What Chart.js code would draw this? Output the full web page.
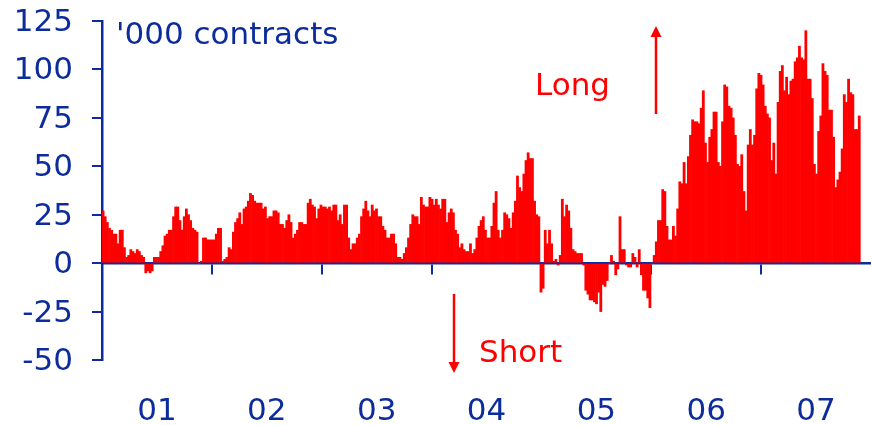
<!DOCTYPE html>
<html>
<head>
<meta charset="utf-8">
<script src="https://cdn.jsdelivr.net/npm/chart.js@4.4.0/dist/chart.umd.min.js"></script>
<style>
  html, body { margin: 0; padding: 0; background: #fff; }
</style>
</head>
<body>
<canvas id="c" width="871" height="425"></canvas>
<script>
const BLUE = '#0D2C9C';
const RED = '#FF0000';
const FONT = '"DejaVu Sans", Verdana, sans-serif';

// weekly net position, '000 contracts
const janToNov01 = [27, 24, 21, 18, 17, 15, 15, 10, 17, 17, 8, 3, 4, 7, 6, 5, 7, 6, 4, 3, -5, -4, -5, -4, 3, 3, 3, 6, 9, 14, 15, 17, 17, 24, 29, 29, 22, 17, 24, 28, 25, 22, 18, 17];
const nov01ToSep02 = [16, 0, 1, 13, 13, 12, 12, 12, 12, 15, 18, 18, 1, 2, 3, 8, 7, 16, 21, 23, 26, 20, 28, 29, 32, 36, 35, 32, 31, 31, 31, 28, 29, 23, 24, 24, 27, 27, 26, 20, 20, 18, 22, 25, 21];
const sep02ToAug03 = [13, 15, 17, 21, 21, 20, 20, 31, 33, 30, 29, 23, 28, 30, 29, 29, 28, 29, 27, 30, 30, 22, 25, 20, 30, 30, 13, 7, 10, 10, 13, 15, 24, 28, 32, 27, 24, 30, 27, 28, 24, 24, 19, 17, 13];
const aug03ToJun04 = [13, 15, 15, 10, 3, 3, 2, 5, 8, 13, 20, 25, 24, 24, 20, 34, 30, 29, 29, 34, 33, 30, 33, 30, 28, 33, 33, 21, 26, 28, 26, 17, 15, 8, 10, 7, 6, 6, 10, 5, 7, 13, 19, 22, 24];
const jun04ToMay05 = [17, 13, 13, 19, 31, 37, 17, 13, 17, 26, 25, 23, 18, 26, 32, 45, 39, 37, 46, 53, 57, 54, 54, 32, 25, 24, -15, -13, 17, 10, 17, 10, 1, 2, -1, 4, 33, 24, 30, 27, 18, 7, 6, 5, 5];
const may05ToJan06 = [5, -1, -14, -16, -19, -19, -20, -21, -15, -25, -11, -12, -9, 0, 4, 1, -6, -3, 24, 7, 7, -1, -2, -2, 5, 3, -2, 7, -6, -14, -14, -18, -23, 0, 4, 11, 22, 22];
const jan06ToDec06 = [38, 37, 19, 12, 12, 19, 14, 28, 42, 41, 52, 41, 55, 66, 74, 73, 73, 72, 80, 89, 62, 52, 65, 69, 78, 78, 52, 50, 73, 92, 91, 81, 80, 75, 66, 51, 50, 56, 37, 27, 61, 69, 61, 66, 90, 98, 97];
const dec06ToNov07 = [92, 81, 77, 75, 53, 62, 46, 83, 99, 102, 89, 96, 87, 94, 95, 104, 106, 112, 106, 105, 120, 95, 95, 85, 51, 46, 68, 76, 103, 99, 97, 79, 79, 65, 39, 43, 47, 59, 87, 83, 95, 88, 87, 69, 69, 76];

const yearLabels = ['01', '02', '03', '04', '05', '06', '07'];
const Y_MIN = -50, Y_MAX = 125, Y_STEP = 25;
const EMPTY_WEEKS = 5; // blank slots after the last week, to the end of 07

const weekly = [].concat(janToNov01, nov01ToSep02, sep02ToAug03, aug03ToJun04,
    jun04ToMay05, may05ToJan06, jan06ToDec06, dec06ToNov07);
const weekSlots = Array.from({ length: weekly.length + EMPTY_WEEKS }, (_, i) => String(i));

function arrow(c, x, y0, y1) {
    const dir = y1 < y0 ? -1 : 1;
    const head = 11;
    c.beginPath();
    c.moveTo(x, y0);
    c.lineTo(x, y1 - dir * head);
    c.stroke();
    c.beginPath();
    c.moveTo(x, y1);
    c.lineTo(x - 5.5, y1 - dir * head);
    c.lineTo(x + 5.5, y1 - dir * head);
    c.closePath();
    c.fill();
}

const notes = {
    id: 'notes',
    afterDraw(chart) {
        const c = chart.ctx;
        c.save();
        c.font = `31px ${FONT}`;
        c.textBaseline = 'alphabetic';
        c.textAlign = 'left';
        c.fillStyle = BLUE;
        c.fillText("'000 contracts", 116, 44);
        c.fillStyle = RED;
        c.strokeStyle = RED;
        c.lineWidth = 2.5;
        c.fillText('Long', 535, 95);
        c.fillText('Short', 479, 362);
        arrow(c, 656, 114, 26);
        arrow(c, 454, 294, 373);
        c.restore();
    }
};

new Chart(document.getElementById('c'), {
    type: 'bar',
    data: {
        labels: weekSlots,
        datasets: [{
            data: weekly,
            xAxisID: 'x',
            yAxisID: 'y',
            backgroundColor: RED,
            borderWidth: 0,
            barPercentage: 1,
            categoryPercentage: 1
        }]
    },
    options: {
        responsive: false,
        animation: false,
        layout: { padding: { top: 21, right: 0, bottom: 0, left: 0 } },
        plugins: { legend: { display: false }, tooltip: { enabled: false } },
        scales: {
            x: { axis: 'x', display: false, offset: true },
            years: {
                axis: 'x', type: 'category', labels: yearLabels, position: { y: 0 }, offset: true,
                grid: {
                    offset: true, drawOnChartArea: false, drawTicks: true, tickLength: 10, lineWidth: 2,
                    // the closing line after the last year has no tick context: hide it
                    color: ctx => ctx.type === 'tick' ? BLUE : 'rgba(0,0,0,0)'
                },
                border: { color: BLUE, width: 2.5 },
                ticks: { display: false }
            },
            yearText: {
                axis: 'x', type: 'category', labels: yearLabels, position: 'bottom', offset: true,
                grid: { display: false, drawTicks: false },
                border: { display: false },
                ticks: { color: BLUE, font: { family: FONT, size: 31 }, padding: 33, maxRotation: 0, autoSkip: false },
                afterFit: s => { s.height = 65; }
            },
            y: {
                axis: 'y', min: Y_MIN, max: Y_MAX,
                ticks: { stepSize: Y_STEP, color: BLUE, font: { family: FONT, size: 31 }, padding: 19, labelOffset: 2 },
                grid: { drawOnChartArea: false, tickLength: 10, lineWidth: 2, color: BLUE },
                border: { color: BLUE, width: 2.5 },
                afterFit: s => { s.width = 102; s.paddingTop = 0; s.paddingBottom = 0; }
            }
        }
    },
    plugins: [notes]
});
</script>
</body>
</html>
